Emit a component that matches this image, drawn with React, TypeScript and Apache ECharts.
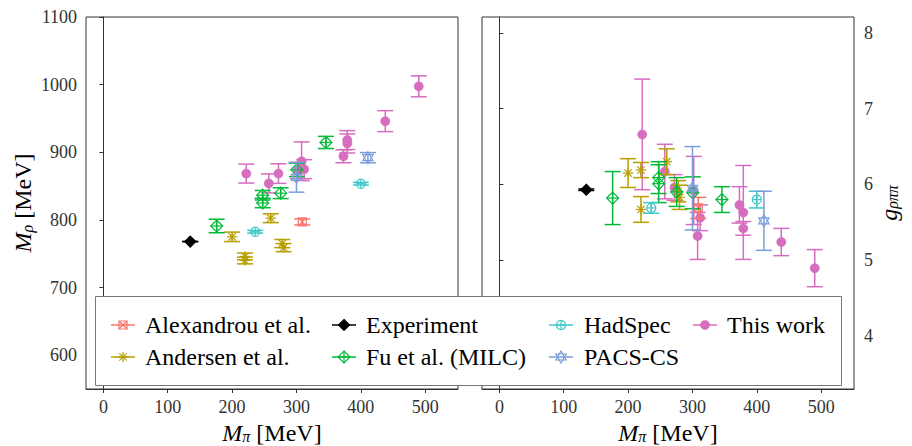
import React, { useEffect, useRef } from 'react';
import * as echarts from 'echarts';

const FONT = 'Liberation Serif';

// ---- Data ----
// Alexandrou et al.
const alexMpi = [309];
const alexMrho = [797];
const alexMrhoErr = [4.5];
const alexG = [5.69];
const alexGErr = [0.14];

// Andersen et al.
const andMpi = [200, 220, 220, 260, 278, 280];
const andMrho = [775, 746, 740, 802.5, 765, 759];
const andMrhoErr = [7, 5, 5, 6.5, 6, 6];
const andG = [6.15, 6.19, 5.67, 6.3, 5.91, 5.83];
const andGErr = [0.19, 0.1, 0.17, 0.17, 0.14, 0.16];

// Experiment
const expMpi = [135];
const expMrho = [768];
const expMrhoErr = [0.3];
const expG = [5.93];
const expGErr = [0.01];

// Fu et al. (MILC)
const fuMpi = [176, 247.5, 247.5, 275.5, 300.5, 345.8];
const fuMrho = [791, 836.5, 825, 839.5, 874, 914.5];
const fuMrhoErr = [10, 7, 7, 8, 10, 9];
const fuG = [5.82, 6.09, 6.01, 5.9, 5.89, 5.8];
const fuGErr = [0.35, 0.21, 0.25, 0.19, 0.21, 0.17];

// HadSpec
const hsMpi = [236, 400];
const hsMrho = [782.5, 853.5];
const hsMrhoErr = [2, 2];
const hsG = [5.69, 5.8];
const hsGErr = [0.07, 0.11];

// PACS-CS
const pacsMpi = [300, 411];
const pacsMrho = [863, 892];
const pacsMrhoErr = [22, 7.5];
const pacsG = [5.95, 5.52];
const pacsGErr = [0.55, 0.39];

// This work
const twMpi = [222, 257, 272, 302, 308, 312, 373, 379, 379, 438, 490];
const twMrho = [868.5, 854, 868.5, 873, 886.7, 875, 894, 918, 913, 946, 997.5];
const twMrhoErr = [14, 14, 14.5, 12, 28.6, 14, 9.5, 14, 14, 15.5, 15.5];
const twG = [6.66, 6.17, 5.96, 5.92, 5.32, 5.56, 5.73, 5.63, 5.42, 5.24, 4.895];
const twGErr = [0.73, 0.36, 0.17, 0.45, 0.31, 0.17, 0.24, 0.62, 0.09, 0.18, 0.245];

// Axis ticks
const xTicks = [0, 100, 200, 300, 400, 500];
const mrhoTicks = [600, 700, 800, 900, 1000, 1100];
const gTicks = [4, 5, 6, 7, 8];

type Kind = 'squarex' | 'asterisk' | 'diamondfill' | 'diamondplus' | 'circleplus' | 'hexagram' | 'circle';

interface DS {
  name: string;
  kind: Kind;
  color: string;
  mpi: number[];
  mrho: number[];
  mrhoErr: number[];
  g: number[];
  gErr: number[];
}

const datasets: DS[] = [
  { name: 'Alexandrou et al.', kind: 'squarex', color: '#F8766D', mpi: alexMpi, mrho: alexMrho, mrhoErr: alexMrhoErr, g: alexG, gErr: alexGErr },
  { name: 'Andersen et al.', kind: 'asterisk', color: '#B79F00', mpi: andMpi, mrho: andMrho, mrhoErr: andMrhoErr, g: andG, gErr: andGErr },
  { name: 'Experiment', kind: 'diamondfill', color: '#000000', mpi: expMpi, mrho: expMrho, mrhoErr: expMrhoErr, g: expG, gErr: expGErr },
  { name: 'Fu et al. (MILC)', kind: 'diamondplus', color: '#00BA38', mpi: fuMpi, mrho: fuMrho, mrhoErr: fuMrhoErr, g: fuG, gErr: fuGErr },
  { name: 'HadSpec', kind: 'circleplus', color: '#3EC8CB', mpi: hsMpi, mrho: hsMrho, mrhoErr: hsMrhoErr, g: hsG, gErr: hsGErr },
  { name: 'PACS-CS', kind: 'hexagram', color: '#7B9EDB', mpi: pacsMpi, mrho: pacsMrho, mrhoErr: pacsMrhoErr, g: pacsG, gErr: pacsGErr },
  { name: 'This work', kind: 'circle', color: '#D66DBF', mpi: twMpi, mrho: twMrho, mrhoErr: twMrhoErr, g: twG, gErr: twGErr },
];

function markerEls(kind: Kind, cx: number, cy: number, color: string): any[] {
  const lw = 1.2;
  const ln = (x1: number, y1: number, x2: number, y2: number) => ({
    type: 'line', shape: { x1, y1, x2, y2 }, style: { stroke: color, lineWidth: lw },
  });
  const poly = (points: number[][], filled = false) => ({
    type: 'polygon', shape: { points },
    style: { fill: filled ? color : 'none', stroke: color, lineWidth: lw },
  });
  switch (kind) {
    case 'circle':
      return [{ type: 'circle', shape: { cx, cy, r: 4.6 }, style: { fill: color, stroke: color, lineWidth: 0.5 } }];
    case 'diamondfill': {
      const r = 5.5;
      return [poly([[cx, cy - r], [cx + r, cy], [cx, cy + r], [cx - r, cy]], true)];
    }
    case 'squarex': {
      const h = 4;
      return [
        { type: 'rect', shape: { x: cx - h, y: cy - h, width: 2 * h, height: 2 * h }, style: { fill: 'none', stroke: color, lineWidth: lw } },
        ln(cx - h, cy - h, cx + h, cy + h), ln(cx - h, cy + h, cx + h, cy - h),
      ];
    }
    case 'asterisk': {
      const r = 5.2, d = r * 0.707;
      return [ln(cx - r, cy, cx + r, cy), ln(cx, cy - r, cx, cy + r), ln(cx - d, cy - d, cx + d, cy + d), ln(cx - d, cy + d, cx + d, cy - d)];
    }
    case 'diamondplus': {
      const r = 6;
      return [poly([[cx, cy - r], [cx + r, cy], [cx, cy + r], [cx - r, cy]]), ln(cx - r, cy, cx + r, cy), ln(cx, cy - r, cx, cy + r)];
    }
    case 'circleplus': {
      const r = 4.6;
      return [{ type: 'circle', shape: { cx, cy, r }, style: { fill: 'none', stroke: color, lineWidth: lw } }, ln(cx - r, cy, cx + r, cy), ln(cx, cy - r, cx, cy + r)];
    }
    case 'hexagram': {
      const r = 6;
      const tri = (a0: number) => [0, 1, 2].map((k) => {
        const a = a0 + (k * 2 * Math.PI) / 3;
        return [cx + r * Math.cos(a), cy + r * Math.sin(a)];
      });
      return [poly(tri(-Math.PI / 2)), poly(tri(Math.PI / 2))];
    }
  }
  return [];
}

const CAP = 8;

function makeRender(kind: Kind, color: string) {
  return (_params: any, api: any) => {
    const x = api.value(0);
    const y = api.value(1);
    const e = api.value(2);
    const c = api.coord([x, y]);
    const hi = api.coord([x, y + e]);
    const lo = api.coord([x, y - e]);
    const st = { stroke: color, lineWidth: 1.5 };
    return {
      type: 'group',
      children: [
        { type: 'line', shape: { x1: c[0], y1: hi[1], x2: c[0], y2: lo[1] }, style: st },
        { type: 'line', shape: { x1: c[0] - CAP, y1: hi[1], x2: c[0] + CAP, y2: hi[1] }, style: st },
        { type: 'line', shape: { x1: c[0] - CAP, y1: lo[1], x2: c[0] + CAP, y2: lo[1] }, style: st },
        ...markerEls(kind, c[0], c[1], color),
      ],
    };
  };
}

const nameRich = {
  m: { fontFamily: FONT, fontSize: 24, fontStyle: 'italic', lineHeight: 24, color: '#000' },
  s: { fontFamily: FONT, fontSize: 16, fontStyle: 'italic', lineHeight: 12, verticalAlign: 'bottom', color: '#000' },
  r: { fontFamily: 'Times New Roman', fontSize: 24, lineHeight: 24, color: '#000' },
};

export default function App() {
  const ref = useRef<HTMLDivElement>(null);

  useEffect(() => {
    if (!ref.current) return;
    const chart = echarts.init(ref.current, undefined, { renderer: 'svg' });

    const axisCommon = {
      type: 'value' as const,
      axisLine: { show: true, lineStyle: { color: '#333', width: 1 } },
      splitLine: { show: false },
      nameTextStyle: { fontFamily: FONT, fontSize: 24, color: '#000', rich: nameRich },
    };
    const fmt = (v: number) => String(v);
    const xAxisCfg = (gi: number) => ({
      ...axisCommon,
      gridIndex: gi,
      min: -27,
      max: 551,
      name: '{m|M}{s|π}{r| [MeV]}',
      nameLocation: 'middle',
      nameGap: 27,
      axisTick: { show: true, length: 4, customValues: xTicks, lineStyle: { color: '#333' } },
      axisLabel: { customValues: xTicks, formatter: fmt, fontFamily: FONT, fontSize: 18, color: '#333', margin: 9 },
    });

    const series: any[] = [];
    const order = [6, 0, 1, 2, 3, 4, 5];
    for (const idx of order) {
      const d = datasets[idx];
      series.push({
        type: 'custom', name: d.name, xAxisIndex: 0, yAxisIndex: 0,
        renderItem: makeRender(d.kind, d.color),
        data: d.mpi.map((m, i) => [m, d.mrho[i], d.mrhoErr[i]]),
        encode: { x: 0, y: 1 },
        clip: false,
        z: 2,
      });
      series.push({
        type: 'custom', name: d.name, xAxisIndex: 1, yAxisIndex: 1,
        renderItem: makeRender(d.kind, d.color),
        data: d.mpi.map((m, i) => [m, d.g[i], d.gErr[i]]),
        encode: { x: 0, y: 1 },
        clip: false,
        z: 2,
      });
    }

    // Legend: frame + line/marker samples as graphics, texts via legend components
    const cols = [
      { mx: 123, tx: 145, names: [datasets[0].name, datasets[1].name] },
      { mx: 344, tx: 366, names: [datasets[2].name, datasets[3].name] },
      { mx: 561, tx: 584, names: [datasets[4].name, datasets[5].name] },
      { mx: 705, tx: 727, names: [datasets[6].name] },
    ];
    const rows = [325, 357];
    const graphics: any[] = [
      {
        type: 'rect', z: 3,
        shape: { x: 95.5, y: 296.5, width: 746, height: 89 },
        style: { fill: '#ffffff', stroke: '#777', lineWidth: 1 },
      },
    ];
    cols.forEach((col) => {
      col.names.forEach((nm, ri) => {
        const d = datasets.find((ds) => ds.name === nm)!;
        const y = rows[ri];
        graphics.push({ type: 'line', z: 6, shape: { x1: col.mx - 12, y1: y, x2: col.mx + 12, y2: y }, style: { stroke: d.color, lineWidth: 1.5 } });
        for (const el of markerEls(d.kind, col.mx, y, d.color)) graphics.push({ ...el, z: 7 });
      });
    });
    const legends = cols.map((col) => ({
      orient: 'vertical',
      left: col.tx - 29,
      top: rows[0] - 12,
      padding: 0,
      itemWidth: 24,
      itemHeight: 10,
      itemGap: 8,
      icon: 'none',
      selectedMode: false,
      itemStyle: { color: 'rgba(0,0,0,0)', borderWidth: 0, opacity: 0 },
      lineStyle: { opacity: 0 },
      textStyle: { fontFamily: FONT, fontSize: 24, color: '#000', lineHeight: 24 },
      data: col.names,
      z: 5,
    }));

    const gridCommon = {
      top: 17, width: 372, height: 372, show: true, borderColor: '#333', borderWidth: 1,
      backgroundColor: 'transparent', containLabel: false, outerBoundsMode: 'none',
    };

    chart.setOption({
      animation: false,
      backgroundColor: '#ffffff',
      textStyle: { fontFamily: FONT },
      grid: [
        { ...gridCommon, left: 86 },
        { ...gridCommon, left: 482 },
      ],
      legend: legends,
      xAxis: [xAxisCfg(0), xAxisCfg(1)],
      yAxis: [
        {
          ...axisCommon, gridIndex: 0, min: 550, max: 1100, position: 'left',
          name: '{m|M}{s|ρ}{r| [MeV]}', nameLocation: 'middle', nameRotate: 90, nameGap: 51,
          axisTick: { show: true, length: 4, customValues: mrhoTicks, lineStyle: { color: '#333' } },
          axisLabel: { customValues: mrhoTicks, formatter: fmt, fontFamily: FONT, fontSize: 18, color: '#333', margin: 9 },
        },
        {
          ...axisCommon, gridIndex: 1, min: 3.3, max: 8.21, position: 'right',
          name: '{m|g}{s|ρππ}', nameLocation: 'middle', nameRotate: 90, nameGap: 9,
          axisTick: { show: true, length: 4, customValues: gTicks, lineStyle: { color: '#333' } },
          axisLabel: { customValues: gTicks, formatter: fmt, fontFamily: FONT, fontSize: 18, color: '#333', margin: 10 },
        },
      ],
      series,
      graphic: { elements: graphics },
    });

    return () => chart.dispose();
  }, []);

  return (
    <div
      ref={ref}
      style={{ position: 'fixed', left: 0, top: 0, width: 912, height: 446, fontFamily: "'Liberation Serif', serif" }}
    />
  );
}
